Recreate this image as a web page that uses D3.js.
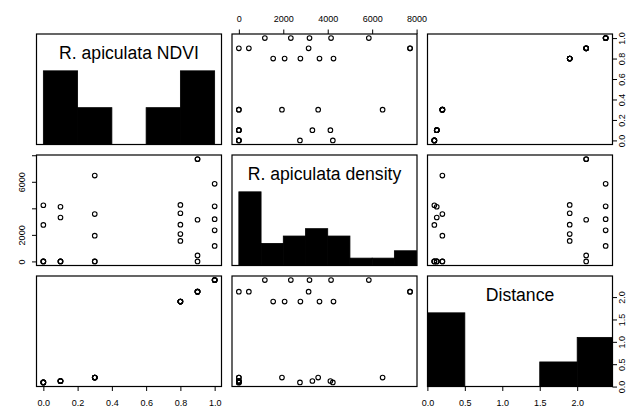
<!DOCTYPE html>
<html>
<head>
<meta charset="utf-8">
<script src="https://cdn.jsdelivr.net/npm/d3@7"></script>
<style>
  body { margin: 0; background: #fff; }
  svg { display: block; }
</style>
</head>
<body>
<div id="graph"></div>
<script>
// one entry per plot (6 sites x 5 plots)
var ndvi = [0, 0, 0, 0, 0,
            0.1, 0.1, 0.1, 0.1, 0.1,
            0.3, 0.3, 0.3, 0.3, 0.3,
            0.8, 0.8, 0.8, 0.8, 0.8,
            0.9, 0.9, 0.9, 0.9, 0.9,
            1.0, 1.0, 1.0, 1.0, 1.0];
var density = [0, 0, 0, 2750, 4230,
               0, 0, 0, 3310, 4120,
               0, 0, 1940, 3570, 6470,
               1545, 2060, 2770, 3630, 4260,
               0, 450, 3140, 7700, 7710,
               1170, 2340, 3180, 4150, 5850];
var distance = [0.093, 0.093, 0.093, 0.093, 0.093,
                0.125, 0.125, 0.125, 0.125, 0.125,
                0.2, 0.2, 0.2, 0.2, 0.2,
                1.9, 1.9, 1.9, 1.9, 1.9,
                2.12, 2.12, 2.12, 2.12, 2.12,
                2.38, 2.38, 2.38, 2.38, 2.38];

var varNames = ["R. apiculata NDVI", "R. apiculata density", "Distance"];

var ndviTicks = [0, 0.2, 0.4, 0.6, 0.8, 1.0];
var densityTicks = [0, 2000, 4000, 6000, 8000];
var densityLeftLabels = [0, 2000, 6000];
var distanceTicks = [0, 0.5, 1.0, 1.5, 2.0];

var ndviBreaks = [0, 0.2, 0.4, 0.6, 0.8, 1.0];
var densityBreaks = [0, 1000, 2000, 3000, 4000, 5000, 6000, 7000, 8000];
var distanceBreaks = [0, 0.5, 1.0, 1.5, 2.0, 2.5];

var columns = [ndvi, density, distance];
var breaks = [ndviBreaks, densityBreaks, distanceBreaks];

var width = 644, height = 408;
var padLeft = 36.5, padTop = 34, W = 185, H = 110.5, gap = 10.5;
var fontFamily = "'Liberation Sans', Arial, Helvetica, sans-serif";

// R style usr range: data range stretched by 4% each side
function extent(k)
{
    var e = d3.extent(columns[k]);
    var r = e[1] - e[0];
    return [e[0] - 0.04 * r, e[1] + 0.04 * r];
}

function xScale(k, j)
{
    var x0 = padLeft + j * (W + gap);
    return d3.scaleLinear().domain(extent(k)).range([x0, x0 + W]);
}

function yScale(k, i)
{
    var y0 = padTop + i * (H + gap);
    return d3.scaleLinear().domain(extent(k)).range([y0 + H, y0]);
}

// right-closed bins like R's hist(), first bin includes its lower edge
function countBins(values, b)
{
    var counts = [];
    for (var i = 0; i < b.length - 1; i++)
    {
        var n = values.filter(function(v)
        {
            return (v > b[i] && v <= b[i + 1]) || (i == 0 && v == b[0]);
        }).length;
        counts.push(n);
    }
    return counts;
}

var svg = d3.select("#graph")
            .append("svg")
            .attr("width", width)
            .attr("height", height);

svg.append("rect")
   .attr("width", width)
   .attr("height", height)
   .attr("fill", "#fff");

var defs = svg.append("defs");

for (var i = 0; i < 3; i++)
{
    for (var j = 0; j < 3; j++)
    {
        var px = padLeft + j * (W + gap);
        var py = padTop + i * (H + gap);
        var clipId = "clip" + i + j;

        defs.append("clipPath")
            .attr("id", clipId)
            .append("rect")
            .attr("x", px)
            .attr("y", py)
            .attr("width", W)
            .attr("height", H);

        var panel = svg.append("g").attr("clip-path", "url(#" + clipId + ")");
        var x = xScale(j, j);

        if (i == j)
        {
            var b = breaks[i];
            var counts = countBins(columns[i], b);
            var maxCount = d3.max(counts);
            var hy = d3.scaleLinear().domain([0, 1.5]).range([py + H, py]);
            var bins = counts.map(function(c, k) { return {x0: b[k], x1: b[k + 1], c: c}; });

            panel.selectAll("rect.bar")
                 .data(bins)
                 .enter().append("rect")
                 .attr("class", "bar")
                 .attr("x", function(d) { return x(d.x0); })
                 .attr("width", function(d) { return x(d.x1) - x(d.x0); })
                 .attr("y", function(d) { return hy(d.c / maxCount); })
                 .attr("height", function(d) { return hy(0) - hy(d.c / maxCount); })
                 .attr("fill", "#000")
                 .attr("stroke", "#000")
                 .attr("stroke-width", 0.8);

            svg.append("text")
               .attr("x", px + W / 2)
               .attr("y", py + 25)
               .attr("text-anchor", "middle")
               .style("font-family", fontFamily)
               .style("font-size", "17.6px")
               .attr("fill", "#000")
               .text(varNames[i]);
        }
        else
        {
            var y = yScale(i, i);
            var xs = columns[j], ys = columns[i];
            panel.selectAll("circle")
                 .data(d3.range(xs.length))
                 .enter().append("circle")
                 .attr("cx", function(d) { return x(xs[d]); })
                 .attr("cy", function(d) { return y(ys[d]); })
                 .attr("r", 2.3)
                 .attr("fill", "none")
                 .attr("stroke", "#000")
                 .attr("stroke-width", 1.1);
        }

        svg.append("rect")
           .attr("x", px)
           .attr("y", py)
           .attr("width", W)
           .attr("height", H)
           .attr("fill", "none")
           .attr("stroke", "#000")
           .attr("stroke-width", 1.2);
    }
}

var fmt1 = d3.format(".1f");

function styleAxis(g)
{
    g.select(".domain").remove();
    g.selectAll("line").attr("stroke", "#000").attr("stroke-width", 1);
    g.selectAll("text")
     .style("font-family", fontFamily)
     .style("font-size", "9px")
     .attr("fill", "#000");
}

// top axis: density over column 2
svg.append("g")
   .attr("transform", "translate(0," + padTop + ")")
   .call(d3.axisTop(xScale(1, 1)).tickValues(densityTicks).tickSize(4.5).tickFormat(d3.format("d")))
   .call(styleAxis)
   .selectAll("text")
   .attr("y", -12)
   .attr("dy", 0);

// bottom axes: NDVI under column 1, distance under column 3
var bottomY = padTop + 2 * (H + gap) + H;
svg.append("g")
   .attr("transform", "translate(0," + bottomY + ")")
   .call(d3.axisBottom(xScale(0, 0)).tickValues(ndviTicks).tickSize(4.5).tickFormat(fmt1))
   .call(styleAxis)
   .selectAll("text")
   .attr("y", 19.5)
   .attr("dy", 0);

svg.append("g")
   .attr("transform", "translate(0," + bottomY + ")")
   .call(d3.axisBottom(xScale(2, 2)).tickValues(distanceTicks).tickSize(4.5).tickFormat(fmt1))
   .call(styleAxis)
   .selectAll("text")
   .attr("y", 19.5)
   .attr("dy", 0);

// left axis: density beside row 2
svg.append("g")
   .attr("transform", "translate(" + padLeft + ",0)")
   .call(d3.axisLeft(yScale(1, 1)).tickValues(densityTicks).tickSize(4.5)
           .tickFormat(function(d) { return densityLeftLabels.indexOf(d) >= 0 ? d : ""; }))
   .call(styleAxis)
   .selectAll("text")
   .attr("transform", "rotate(-90)")
   .attr("x", 0)
   .attr("y", -11.5)
   .attr("dy", 0)
   .attr("text-anchor", "middle");

// right axes: NDVI beside row 1, distance beside row 3
var rightX = padLeft + 2 * (W + gap) + W;
svg.append("g")
   .attr("transform", "translate(" + rightX + ",0)")
   .call(d3.axisRight(yScale(0, 0)).tickValues(ndviTicks).tickSize(4.5).tickFormat(fmt1))
   .call(styleAxis)
   .selectAll("text")
   .attr("transform", "rotate(-90)")
   .attr("x", 0)
   .attr("y", 12.5)
   .attr("dy", 0)
   .attr("text-anchor", "middle");

svg.append("g")
   .attr("transform", "translate(" + rightX + ",0)")
   .call(d3.axisRight(yScale(2, 2)).tickValues(distanceTicks).tickSize(4.5).tickFormat(fmt1))
   .call(styleAxis)
   .selectAll("text")
   .attr("transform", "rotate(-90)")
   .attr("x", 0)
   .attr("y", 12.5)
   .attr("dy", 0)
   .attr("text-anchor", "middle");
</script>
</body>
</html>
